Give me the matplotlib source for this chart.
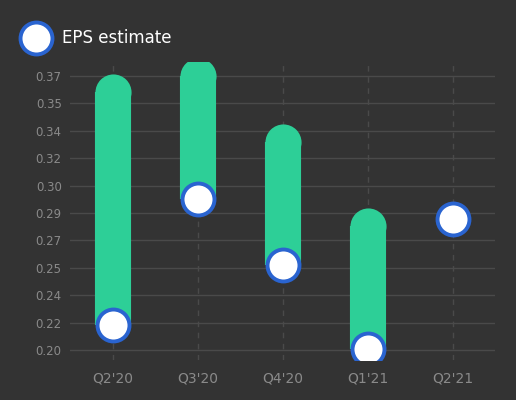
import matplotlib.pyplot as plt
from matplotlib.lines import Line2D

quarters = ["Q2'20", "Q3'20", "Q4'20", "Q1'21", "Q2'21"]
eps_estimate = [0.2155, 0.2937, 0.2527, 0.2006, 0.2813]
range_high = [0.360, 0.370, 0.329, 0.277, None]
tick_vals = [0.20 + 0.017 * k for k in range(11)]
tick_labels = ["0.20", "0.22", "0.24", "0.25", "0.27", "0.29", "0.30",
               "0.32", "0.34", "0.35", "0.37"]

bg = '#333333'
green = '#2dcf97'
blue = '#2a64d0'
grey = '#8a8a8a'

fig = plt.figure(figsize=(5.16, 4.0), dpi=100, facecolor=bg)
ax = fig.add_axes([70 / 516, 0.1, 425 / 516, 0.745], facecolor=bg)

px = 0.017 / 27.4
ax.set_ylim(0.20 - 10 * px, 0.37 + 14 * px)
ax.set_xlim(-0.5, 4.5)

for y in tick_vals:
    ax.axhline(y, color='#4a4a4a', lw=1, zorder=0)
for i in range(len(quarters)):
    ax.axvline(i, color='#4a4a4a', lw=1, ls=(0, (4, 4)), zorder=0)

for i, (lo, hi) in enumerate(zip(eps_estimate, range_high)):
    if hi is not None:
        ax.plot([i, i], [lo, hi], color=green, lw=26, solid_capstyle='butt', zorder=2)
        ax.plot([i], [hi], marker='o', ms=26, mew=0, color=green, zorder=2)

ax.plot(range(len(quarters)), eps_estimate, ls='none', marker='o', ms=23,
        mfc='white', mec=blue, mew=2.8, zorder=3)

ax.set_yticks(tick_vals, tick_labels)
ax.set_xticks(range(len(quarters)), quarters)
ax.tick_params(axis='y', colors=grey, labelsize=8.5, length=0, pad=6)
ax.tick_params(axis='x', colors=grey, labelsize=10, length=0, pad=8)
for s in ax.spines.values():
    s.set_visible(False)

leg_ax = fig.add_axes([0, 0, 1, 1], facecolor='none')
leg_ax.set_axis_off()
leg_ax.set_xlim(0, 516)
leg_ax.set_ylim(400, 0)
leg_ax.add_line(Line2D([36], [38], marker='o', ms=23, mfc='white', mec=blue, mew=2.8))
leg_ax.text(62, 38, 'EPS estimate', color='white', fontsize=12, va='center', ha='left')

fig.savefig('out.png', dpi=100, facecolor=bg)
